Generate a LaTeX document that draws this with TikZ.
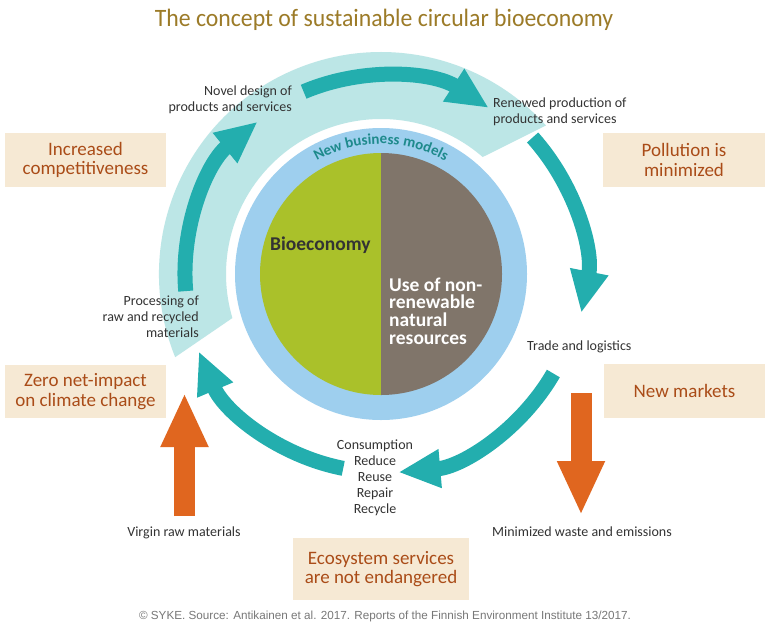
\documentclass[tikz,border=0pt]{standalone}
\usepackage{fontspec}
\setmainfont{Carlito}
\newfontfamily\titlefont[FakeStretch=0.95]{Carlito}
\newfontfamily\credfont{Liberation Sans}
\usetikzlibrary{arrows.meta,decorations.text}
\definecolor{teal1}{RGB}{35,174,174}
\definecolor{cyanband}{RGB}{188,230,230}
\definecolor{ringblue}{RGB}{158,207,238}
\definecolor{pgreen}{RGB}{170,193,42}
\definecolor{pbrown}{RGB}{128,117,106}
\definecolor{orng}{RGB}{224,102,31}
\definecolor{beige}{RGB}{246,233,212}
\definecolor{boxtext}{RGB}{170,76,24}
\definecolor{titlecol}{RGB}{156,123,40}
\definecolor{labeltext}{RGB}{51,51,51}
\definecolor{curvetext}{RGB}{30,138,140}
\definecolor{credit}{RGB}{120,120,120}
\begin{document}
\begin{tikzpicture}[x=1pt,y=-1pt,
  lbl/.style={font=\fontsize{14}{16}\selectfont, text=labeltext, inner sep=0pt},
  boxtxt/.style={fill=beige, font=\fontsize{19}{19.5}\selectfont, text=boxtext, align=center, inner sep=0pt},
  pietxt/.style={font=\bfseries\fontsize{19.5}{17.8}\selectfont, inner sep=0pt},
  tealarrow/.style={draw=teal1, line width=15pt, -{Triangle[length=42pt,width=36pt]}},
  orangearrow/.style={draw=orng, line width=21pt, -{Triangle[length=54pt,width=44pt]}},
]
\useasboundingbox (0,0) rectangle (770,640);
\fill[white] (0,0) rectangle (770,640);

% title
\node[font=\titlefont\fontsize{25}{25}\selectfont, text=titlecol, anchor=base, inner sep=0pt] (title) at (384,26) {The concept of sustainable circular bioeconomy};

% circle group
\begin{scope}[shift={(381,274)}]
  \fill[cyanband] (202:222pt) arc[start angle=202,end angle=42,radius=222pt]
     -- (49:155pt) arc[start angle=49,end angle=196.5,radius=155pt] -- cycle;
  \fill[ringblue] (0,0) circle[radius=146pt];
  \fill[pgreen] (90:121pt) arc[start angle=90,end angle=270,radius=121pt] -- cycle;
  \fill[pbrown] (-90:121pt) arc[start angle=-90,end angle=90,radius=121pt] -- cycle;
  \path[decorate, decoration={text along path, text align=center,
     text={|\bfseries\fontsize{15}{15}\selectfont\color{curvetext}|New business models}}]
     (132:130pt) arc[start angle=132,end angle=48,radius=130pt];
  \coordinate (a1s) at (185:196pt);
  \coordinate (a2s) at (113:198pt);
  \coordinate (a3s) at (42:204pt);
  \coordinate (a4s) at (-30:199pt);
  \coordinate (a5s) at (-101:198pt);
  \draw[tealarrow] (a1s) arc[start angle=185,end angle=129,radius=196pt];
  \draw[tealarrow] (a2s) arc[start angle=113,end angle=57,radius=198pt];
  \draw[tealarrow] (a3s) arc[start angle=42,end angle=-11,radius=204pt];
  \draw[tealarrow] (a4s) arc[start angle=-30,end angle=-85,radius=199pt];
  \draw[tealarrow] (a5s) arc[start angle=-101,end angle=-157,radius=198pt];
\end{scope}

% pie texts (base anchor = baseline of last line)
\node[pietxt, text=labeltext, anchor=base west] (bio) at (270,250) {Bioeconomy};
\node[pietxt, text=white, anchor=base west, align=left] (nonren) at (389,344.4) {Use of non-\\renewable\\natural\\resources};

% cycle labels
\node[lbl, align=right, anchor=base east] (novel) at (292,111) {Novel design of\\products and services};
\node[lbl, align=left, anchor=base west] (renew) at (493,123) {Renewed production of\\products and services};
\node[lbl, align=right, anchor=base east] (proc) at (199,337.5) {Processing of\\raw and recycled\\materials};
\node[lbl, anchor=base west] (trade) at (527,350) {Trade and logistics};
\node[lbl, align=center, anchor=base] (cons) at (375,513) {Consumption\\Reduce\\Reuse\\Repair\\Recycle};
\node[lbl, anchor=base] (virgin) at (184,536) {Virgin raw materials};
\node[lbl, anchor=base] (minw) at (582,536) {Minimized waste and emissions};

% orange arrows
\coordinate (vb) at (184.5,516);
\coordinate (vt) at (184.5,393);
\draw[orangearrow] (vb) -- (vt);
\coordinate (wt) at (581,393);
\coordinate (wb) at (581,515);
\draw[orangearrow] (wt) -- (wb);

% beige boxes
\node[boxtxt, minimum width=161pt, minimum height=54pt] (incr) at (85.5,160) {Increased\\competitiveness};
\node[boxtxt, minimum width=162pt, minimum height=54pt] (poll) at (684,160) {Pollution is\\minimized};
\node[boxtxt, minimum width=161pt, minimum height=53pt] (zero) at (85.5,391.5) {Zero net-impact\\on climate change};
\node[boxtxt, minimum width=161pt, minimum height=54pt] (newm) at (684.5,391) {New markets};
\node[boxtxt, minimum width=176pt, minimum height=62pt] (eco) at (381,569) {Ecosystem services\\are not endangered};

% credit
\node[font=\credfont\fontsize{11.7}{12}\selectfont, text=credit, anchor=base, inner sep=0pt] (cred) at (385,619) {© SYKE. Source: Antikainen et al. 2017. Reports of the Finnish Environment Institute 13/2017.};
\end{tikzpicture}
\end{document}
